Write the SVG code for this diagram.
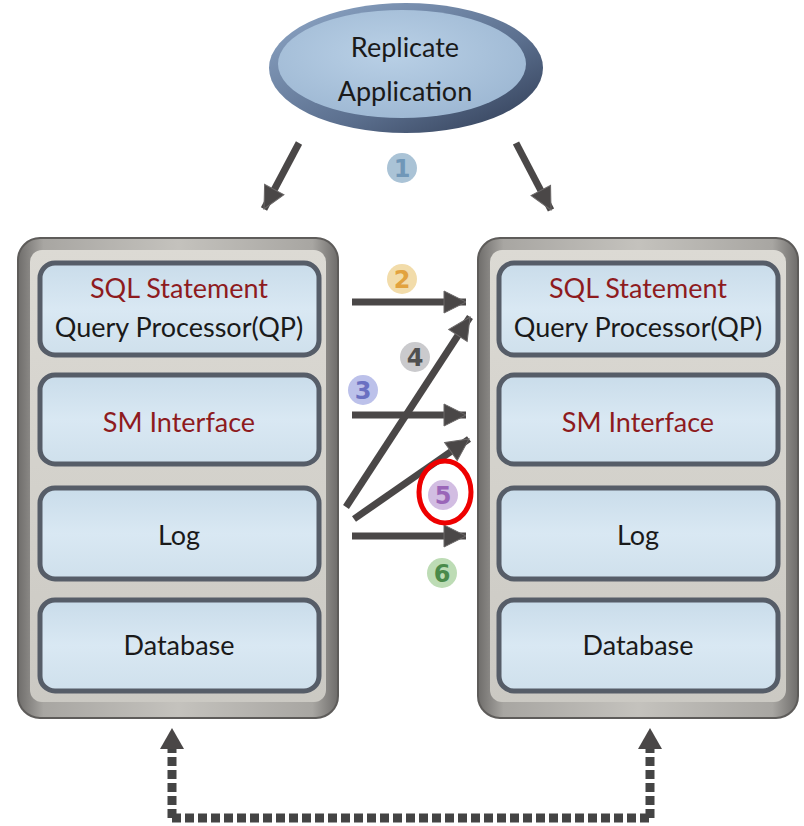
<svg xmlns="http://www.w3.org/2000/svg" width="804" height="826" viewBox="0 0 804 826">
<defs>
<linearGradient id="frameG" x1="0" y1="0" x2="1" y2="0">
<stop offset="0" stop-color="#6f6d6b"/><stop offset="0.08" stop-color="#a8a6a2"/><stop offset="0.5" stop-color="#c4c2bd"/><stop offset="0.92" stop-color="#a8a6a2"/><stop offset="1" stop-color="#6f6d6b"/>
</linearGradient>
<linearGradient id="panelG" x1="0" y1="0" x2="0" y2="1">
<stop offset="0" stop-color="#dcdad4"/><stop offset="1" stop-color="#cbc9c3"/>
</linearGradient>
<linearGradient id="boxG" x1="0" y1="0" x2="0" y2="1">
<stop offset="0" stop-color="#c9dcea"/><stop offset="0.5" stop-color="#d9e8f3"/><stop offset="1" stop-color="#cfe0ec"/>
</linearGradient>
<linearGradient id="ellG" x1="0" y1="0" x2="1" y2="1">
<stop offset="0" stop-color="#8fa8c8"/><stop offset="0.6" stop-color="#5b6f8e"/><stop offset="1" stop-color="#2e3a52"/>
</linearGradient>
<radialGradient id="ellIn" cx="0.45" cy="0.4" r="0.6">
<stop offset="0" stop-color="#b9d0e6"/><stop offset="1" stop-color="#9fb9d4"/>
</radialGradient>
<marker id="ah" markerUnits="userSpaceOnUse" markerWidth="26" markerHeight="26" viewBox="0 0 26 26" refX="24" refY="13" orient="auto">
<path d="M2,2 L24,13 L2,24 Z" fill="#4a4747" stroke="#6b6868" stroke-width="1"/>
</marker>
</defs>
<style>
.frame{fill:url(#frameG);stroke:#5e5c5a;stroke-width:2}
.panel{fill:url(#panelG)}
.box{fill:url(#boxG);stroke:#565d68;stroke-width:5}
.lbl{font-family:Lato,"Open Sans",sans-serif;font-size:27px;text-anchor:middle;fill:#1a1a1a}
.red{fill:#8e1b1e}
.arr{stroke:#4a4747;stroke-width:7;fill:none;marker-end:url(#ah)}
.dash{stroke:#444;stroke-width:9;stroke-dasharray:9 4;fill:none}
.num{font-family:"DejaVu Sans",sans-serif;font-weight:bold;font-size:24px;text-anchor:middle}
</style>
<rect width="804" height="826" fill="#ffffff"/>

<g id="replicate-app">
<ellipse cx="406" cy="68" rx="137" ry="65" fill="url(#ellG)"/>
<ellipse cx="402" cy="64" rx="124" ry="54" fill="url(#ellIn)"/>
<text class="lbl" x="405" y="57">Replicate</text>
<text class="lbl" x="405" y="101">Application</text>
</g>

<g id="left-server">
<rect class="frame" x="18" y="238" width="320" height="480" rx="22"/>
<rect class="panel" x="30" y="250" width="296" height="452" rx="12"/>
<g id="left-qp"><rect class="box" x="40" y="263" width="279" height="92" rx="15"/>
<text class="lbl red" x="179" y="298">SQL Statement</text>
<text class="lbl" x="179" y="337">Query Processor(QP)</text></g>
<g id="left-sm"><rect class="box" x="40" y="375" width="279" height="89" rx="15"/>
<text class="lbl red" x="179" y="432">SM Interface</text></g>
<g id="left-log"><rect class="box" x="40" y="488" width="279" height="91" rx="15"/>
<text class="lbl" x="179" y="545">Log</text></g>
<g id="left-db"><rect class="box" x="40" y="600" width="279" height="91" rx="15"/>
<text class="lbl" x="179" y="655">Database</text></g>
</g>

<g id="right-server">
<rect class="frame" x="478" y="238" width="320" height="480" rx="22"/>
<rect class="panel" x="490" y="250" width="296" height="452" rx="12"/>
<g id="right-qp"><rect class="box" x="499" y="263" width="279" height="92" rx="15"/>
<text class="lbl red" x="638" y="298">SQL Statement</text>
<text class="lbl" x="638" y="337">Query Processor(QP)</text></g>
<g id="right-sm"><rect class="box" x="499" y="375" width="279" height="89" rx="15"/>
<text class="lbl red" x="638" y="432">SM Interface</text></g>
<g id="right-log"><rect class="box" x="499" y="488" width="279" height="91" rx="15"/>
<text class="lbl" x="638" y="545">Log</text></g>
<g id="right-db"><rect class="box" x="499" y="600" width="279" height="91" rx="15"/>
<text class="lbl" x="638" y="655">Database</text></g>
</g>

<g id="connectors">
<line class="arr" x1="299" y1="143" x2="264" y2="209"/>
<line class="arr" x1="516" y1="143" x2="551" y2="210"/>
<line class="arr" x1="352" y1="302" x2="466" y2="302"/>
<line class="arr" x1="352" y1="415" x2="466" y2="415"/>
<line class="arr" x1="352" y1="536" x2="466" y2="536"/>
<line class="arr" x1="346" y1="507" x2="470" y2="317"/>
<line class="arr" x1="354" y1="519" x2="469" y2="439"/>
<path class="dash" d="M172,818 H650"/>
<path class="dash" d="M172,818 V747"/>
<path class="dash" d="M650,818 V747"/>
<path d="M160,749 L172,728 L184,749 Z" fill="#4a4747"/>
<path d="M638,749 L650,728 L662,749 Z" fill="#4a4747"/>
</g>

<g id="badges">
<circle cx="402" cy="168" r="15" fill="#aac3d6"/><text class="num" x="402" y="177" fill="#7097b8">1</text>
<circle cx="402" cy="279" r="15" fill="#f2dcaa"/><text class="num" x="402" y="288" fill="#e2a23e">2</text>
<circle cx="363" cy="390" r="15" fill="#bcc1ea"/><text class="num" x="363" y="399" fill="#6a70c2">3</text>
<circle cx="415" cy="357" r="15" fill="#cacacd"/><text class="num" x="415" y="366" fill="#505050">4</text>
<circle cx="443" cy="495" r="15" fill="#d2bde2"/><text class="num" x="443" y="504" fill="#9a66b8">5</text>
<circle cx="442" cy="573" r="15" fill="#bddcb5"/><text class="num" x="442" y="582" fill="#4a8a4a">6</text>
<ellipse cx="445" cy="492" rx="26" ry="31" fill="none" stroke="#ee0000" stroke-width="5"/>
</g>
</svg>
